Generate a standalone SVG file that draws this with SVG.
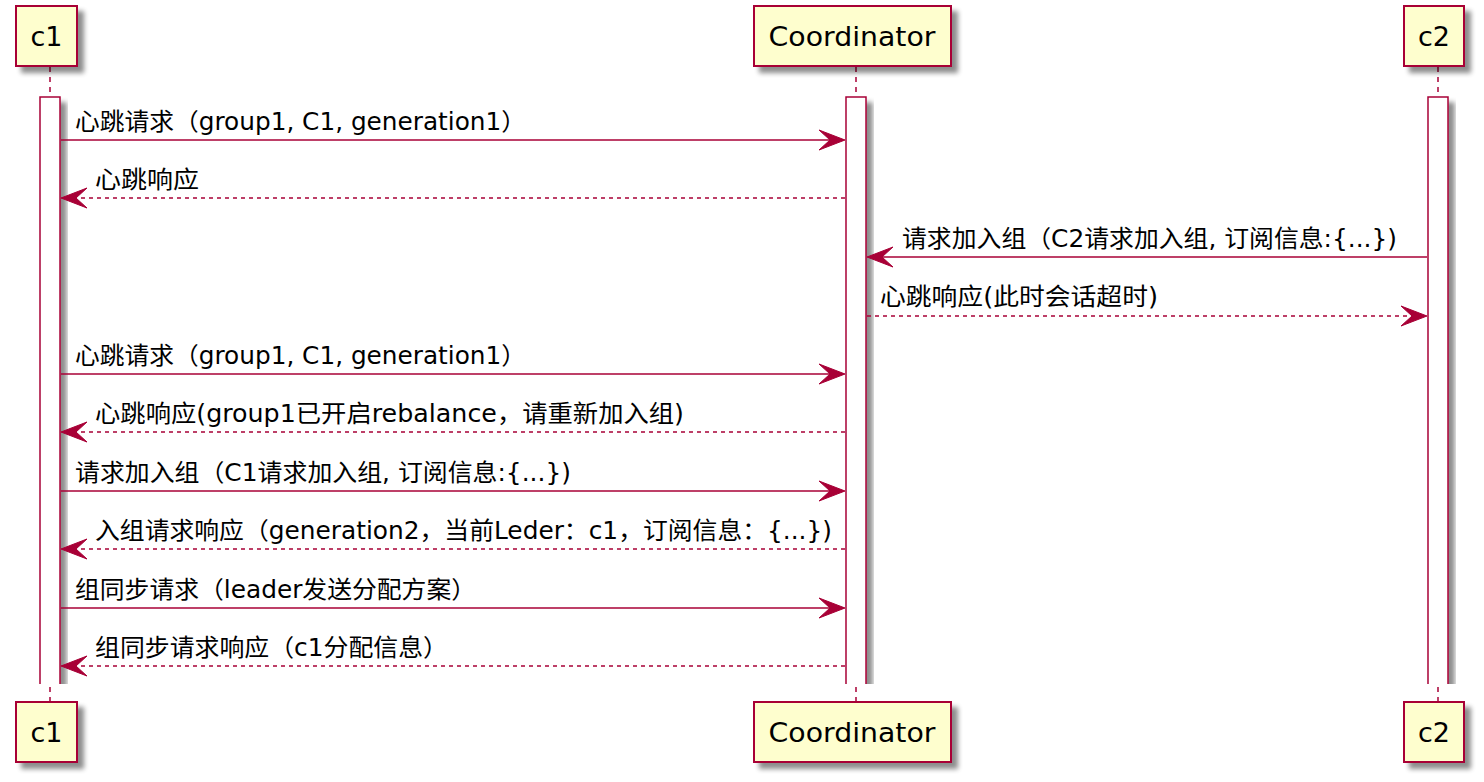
<svg xmlns="http://www.w3.org/2000/svg" width="1484" height="782" viewBox="0 0 1484 782">
<style>
.box{fill:#FEFECE;stroke:#A80036;stroke-width:2;filter:url(#sh)}
.act{fill:#FFFFFF;stroke:#A80036;stroke-width:1.5;filter:url(#sh)}
.life{stroke:#A80036;stroke-width:1.5;stroke-dasharray:5,5;fill:none}
.msg{stroke:#A80036;stroke-width:1.5;fill:none}
.ret{stroke:#A80036;stroke-width:1.5;fill:none;stroke-dasharray:4,4}
.head{fill:#A80036;stroke:#A80036;stroke-width:1}
.pt{font-family:"DejaVu Sans","Noto Sans CJK SC",sans-serif;font-size:27px;fill:#000;text-anchor:middle}
.mt{font-family:"DejaVu Sans","Noto Sans CJK SC",sans-serif;font-size:24px;fill:#000}
</style>
<defs>
<filter id="sh" x="-20%" y="-20%" width="160%" height="160%">
<feGaussianBlur in="SourceAlpha" stdDeviation="2.5"/>
<feOffset dx="6" dy="6" result="b"/>
<feComponentTransfer><feFuncA type="linear" slope="0.45"/></feComponentTransfer>
<feMerge><feMergeNode/><feMergeNode in="SourceGraphic"/></feMerge>
</filter>
<clipPath id="actclip"><rect x="0" y="90" width="1484" height="594"/></clipPath>
</defs>
<rect width="1484" height="782" fill="#FFFFFF"/>
<g id="lifelines">
<line class="life" x1="50" y1="67" x2="50" y2="701"/>
<line class="life" x1="856" y1="67" x2="856" y2="701"/>
<line class="life" x1="1438" y1="67" x2="1438" y2="701"/>
</g>
<g id="activations" clip-path="url(#actclip)">
<rect class="act" x="40" y="97" width="20" height="610"/>
<rect class="act" x="846" y="97" width="20" height="610"/>
<rect class="act" x="1428" y="97" width="20" height="610"/>
</g>
<g id="c1">
<rect class="box" x="16" y="6" width="61" height="60"/>
<text class="pt" x="46.5" y="46">c1</text>
</g>
<g id="Coordinator">
<rect class="box" x="754" y="6" width="197" height="60"/>
<text class="pt" x="852" y="46" textLength="167" lengthAdjust="spacingAndGlyphs">Coordinator</text>
</g>
<g id="c2">
<rect class="box" x="1404" y="6" width="60" height="60"/>
<text class="pt" x="1434" y="46">c2</text>
</g>
<g id="c1-bottom">
<rect class="box" x="16" y="702" width="61" height="60"/>
<text class="pt" x="46.5" y="742">c1</text>
</g>
<g id="Coordinator-bottom">
<rect class="box" x="754" y="702" width="197" height="60"/>
<text class="pt" x="852" y="742" textLength="167" lengthAdjust="spacingAndGlyphs">Coordinator</text>
</g>
<g id="c2-bottom">
<rect class="box" x="1404" y="702" width="60" height="60"/>
<text class="pt" x="1434" y="742">c2</text>
</g>
<g id="connectors">
<line class="msg" x1="61" y1="140" x2="843" y2="140"/>
<polygon class="head" points="845,140 819,130 830,140 819,150"/>
<line class="ret" x1="845" y1="198" x2="64" y2="198"/>
<polygon class="head" points="61,198 87,188 76,198 87,208"/>
<line class="msg" x1="1427" y1="257" x2="870" y2="257"/>
<polygon class="head" points="867,257 893,247 882,257 893,267"/>
<line class="ret" x1="867" y1="316" x2="1424" y2="316"/>
<polygon class="head" points="1427,316 1401,306 1412,316 1401,326"/>
<line class="msg" x1="61" y1="374" x2="843" y2="374"/>
<polygon class="head" points="845,374 819,364 830,374 819,384"/>
<line class="ret" x1="845" y1="432" x2="64" y2="432"/>
<polygon class="head" points="61,432 87,422 76,432 87,442"/>
<line class="msg" x1="61" y1="491" x2="843" y2="491"/>
<polygon class="head" points="845,491 819,481 830,491 819,501"/>
<line class="ret" x1="845" y1="549" x2="64" y2="549"/>
<polygon class="head" points="61,549 87,539 76,549 87,559"/>
<line class="msg" x1="61" y1="608" x2="843" y2="608"/>
<polygon class="head" points="845,608 819,598 830,608 819,618"/>
<line class="ret" x1="845" y1="666" x2="64" y2="666"/>
<polygon class="head" points="61,666 87,656 76,666 87,676"/>
</g>
<g id="labels">
<text class="mt" x="75" y="130" textLength="451" lengthAdjust="spacingAndGlyphs">心跳请求（group1, C1, generation1）</text>
<text class="mt" x="95" y="188" textLength="104" lengthAdjust="spacingAndGlyphs">心跳响应</text>
<text class="mt" x="902" y="247" textLength="495" lengthAdjust="spacingAndGlyphs">请求加入组（C2请求加入组, 订阅信息:{...})</text>
<text class="mt" x="880" y="305" textLength="278" lengthAdjust="spacingAndGlyphs">心跳响应(此时会话超时)</text>
<text class="mt" x="75" y="364" textLength="451" lengthAdjust="spacingAndGlyphs">心跳请求（group1, C1, generation1）</text>
<text class="mt" x="95" y="422" textLength="589" lengthAdjust="spacingAndGlyphs">心跳响应(group1已开启rebalance，请重新加入组)</text>
<text class="mt" x="75" y="481" textLength="496" lengthAdjust="spacingAndGlyphs">请求加入组（C1请求加入组, 订阅信息:{...})</text>
<text class="mt" x="95" y="539" textLength="737" lengthAdjust="spacingAndGlyphs">入组请求响应（generation2，当前Leder：c1，订阅信息：{...})</text>
<text class="mt" x="75" y="598" textLength="401" lengthAdjust="spacingAndGlyphs">组同步请求（leader发送分配方案）</text>
<text class="mt" x="95" y="656" textLength="353" lengthAdjust="spacingAndGlyphs">组同步请求响应（c1分配信息）</text>
</g>
</svg>
